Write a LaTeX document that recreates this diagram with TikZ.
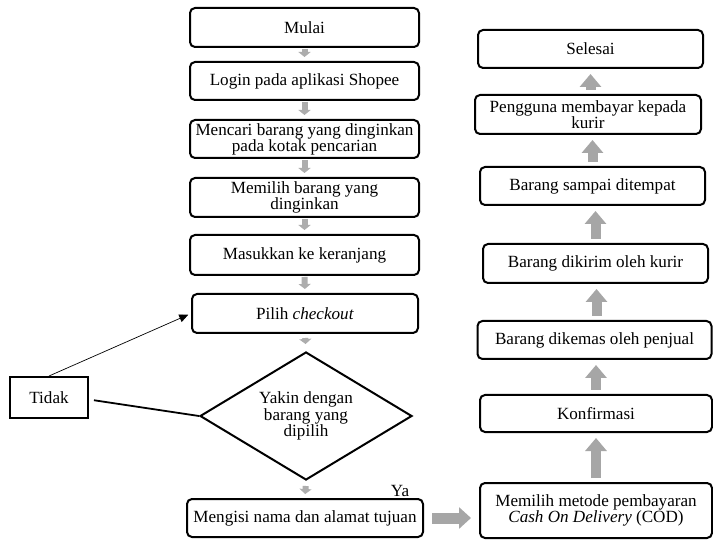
\documentclass[tikz,border=0pt]{standalone}
\usepackage{fontspec}
\setmainfont{Liberation Serif}
\usetikzlibrary{arrows.meta,shapes.geometric}
\tikzset{
  txt/.style={font=\fontsize{17.1}{16}\selectfont},
  box/.style={txt, draw, line width=2pt, rounded corners=5pt, fill=white, align=center, inner sep=0pt},
  sqbox/.style={txt, draw, line width=2pt, align=center, inner sep=0pt},
  dec/.style={draw, line width=2pt, shape=diamond, aspect=1.66, align=center, inner sep=0pt, minimum width=212pt, minimum height=128pt, font=\fontsize{17.1}{14.5}\selectfont},
  sarrow/.style={draw=black!32, line width=6pt, -{Triangle[width=12pt,length=5pt]}, shorten <=1pt, shorten >=4pt},
  barrow/.style={draw=black!35, line width=10pt, -{Triangle[width=21pt,length=13pt]}, shorten <=4pt, shorten >=5pt},
  harrow/.style={draw=black!35, line width=11pt, -{Triangle[width=21pt,length=12pt]}, shorten <=8pt, shorten >=8pt},
  thinarrow/.style={draw, line width=0.7pt, -{Triangle[width=8pt,length=9pt]}, shorten >=3pt},
  plainline/.style={draw, line width=1.8pt}
}
\begin{document}
\begin{tikzpicture}[x=1pt,y=-1pt]
\useasboundingbox[fill=white] (0,0) rectangle (713,540);
% left column
\node[box, minimum width=229pt, minimum height=39pt] (mulai) at (304.5,27.5) {Mulai};
\node[box, minimum width=229pt, minimum height=38pt] (login) at (304.5,81) {Login pada aplikasi Shopee};
\node[box, minimum width=229pt, minimum height=38pt] (cari) at (304.5,139) {Mencari barang yang dinginkan\\pada kotak pencarian};
\node[box, minimum width=229pt, minimum height=39pt] (pilihbrg) at (304.5,197.5) {Memilih barang yang\\dinginkan};
\node[box, minimum width=229pt, minimum height=40pt] (masuk) at (304.5,255) {Masukkan ke keranjang};
\node[box, minimum width=226pt, minimum height=39pt] (checkout) at (305,313.5) {Pilih \textit{checkout}};
\node[dec] (yakin) at (306,416) {Yakin dengan\\barang yang\\dipilih};
\node[box, minimum width=236pt, minimum height=38pt] (isi) at (305,518) {Mengisi nama dan alamat tujuan};
\node[sqbox, minimum width=78pt, minimum height=41pt] (tidak) at (49,397.5) {Tidak};
\node[txt, inner sep=0pt] (ya) at (400,491) {Ya};
% right column
\node[box, minimum width=225pt, minimum height=38pt] (selesai) at (590.5,49) {Selesai};
\node[box, minimum width=226pt, minimum height=39pt] (bayar) at (588,114.5) {Pengguna membayar kepada\\kurir};
\node[box, minimum width=225pt, minimum height=38pt] (sampai) at (592.5,186) {Barang sampai ditempat};
\node[box, minimum width=225pt, minimum height=39pt] (kirim) at (595.5,263.5) {Barang dikirim oleh kurir};
\node[box, minimum width=234pt, minimum height=38pt] (kemas) at (594.5,340) {Barang dikemas oleh penjual};
\node[box, minimum width=232pt, minimum height=37pt] (konf) at (596,413.5) {Konfirmasi};
\node[box, minimum width=232pt, minimum height=55pt] (cod) at (596,510.5) {Memilih metode pembayaran\\\textit{Cash On Delivery} (COD)};
% left column arrows
\draw[sarrow] (mulai.south) -- (login.north);
\draw[sarrow] (login.south) -- (cari.north);
\draw[sarrow] (cari.south) -- (pilihbrg.north);
\draw[sarrow] (pilihbrg.south) -- (masuk.north);
\draw[sarrow] (masuk.south) -- (checkout.north);
\draw[sarrow, shorten <=4pt, shorten >=7pt] (checkout.south) -- (yakin.north);
\draw[sarrow, shorten <=5pt, shorten >=4pt] (yakin.south) -- (isi.north);
% right column arrows
\draw[barrow] (selesai.south |- bayar.north) -- (selesai.south);
\draw[barrow] (sampai.north) -- (sampai.north |- bayar.south);
\draw[barrow] (kirim.north) -- (kirim.north |- sampai.south);
\draw[barrow] ([xshift=2pt]kemas.north) -- ([xshift=2pt]kemas.north |- kirim.south);
\draw[barrow] (konf.north) -- (konf.north |- kemas.south);
\draw[barrow] (cod.north) -- (konf.south);
\draw[harrow] (isi.east) -- (isi.east -| cod.west);
% decision links
\draw[plainline, shorten <=5pt] ([yshift=-2pt]tidak.east) -- (yakin.west);
\draw[thinarrow] (tidak.north) -- (checkout.west);
\end{tikzpicture}
\end{document}
